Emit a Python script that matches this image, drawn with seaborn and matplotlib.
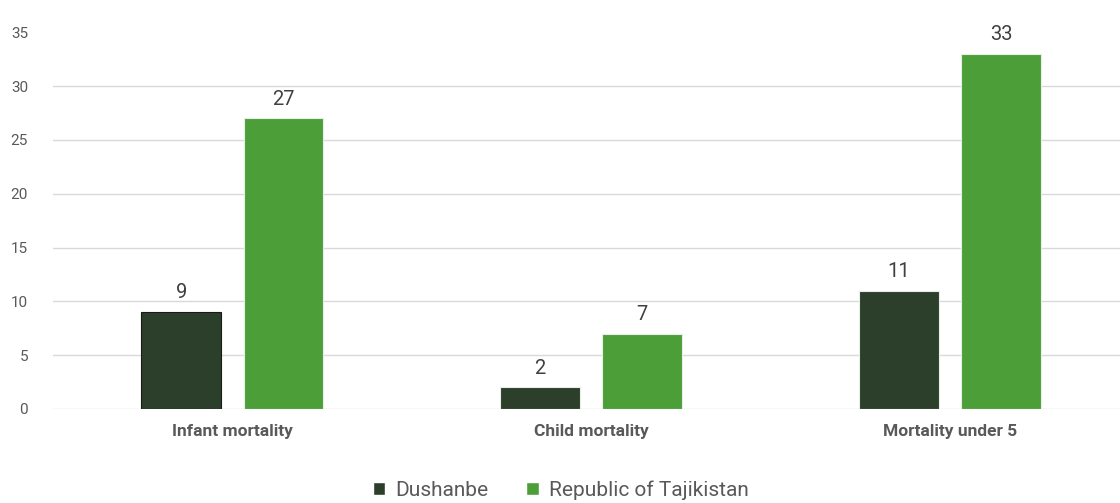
import matplotlib
matplotlib.use("Agg")
import matplotlib.pyplot as plt
import seaborn as sns
import pandas as pd

categories = ["Infant mortality", "Child mortality", "Mortality under 5"]
series = ["Dushanbe", "Republic of Tajikistan"]
dushanbe = [9, 2, 11]
tajikistan = [27, 7, 33]
yticks = [0, 5, 10, 15, 20, 25, 30, 35]

colors = {"Dushanbe": "#2c3f2a", "Republic of Tajikistan": "#4c9f38"}

df = pd.DataFrame({
    "category": categories * 2,
    "region": [series[0]] * 3 + [series[1]] * 3,
    "value": dushanbe + tajikistan,
})

sns.set_theme(style="white")
plt.rcParams["font.family"] = ["Roboto", "DejaVu Sans"]

fig = plt.figure(figsize=(11.2, 5.03), dpi=100)
ax = fig.add_axes([0.0473, 0.187, 0.9527, 0.813])

sns.barplot(data=df, x="category", y="value", hue="region", order=categories,
            hue_order=series, palette=colors, width=0.57, gap=0.22,
            saturation=1, ax=ax, legend=True)

# thin outline on the first dark bar, pale hairline elsewhere
for i, p in enumerate(ax.patches[:6]):
    p.set_edgecolor("#1a1a1a" if i == 0 else "#e8efe6")
    p.set_linewidth(0.8)

for cont in ax.containers:
    ax.bar_label(cont, labels=[f"{v:g}" for v in cont.datavalues],
                 padding=7, fontsize=14.5, color="#404040")

ax.set_xlim(-0.5, 2.474)
ax.set_ylim(0, 38)
ax.set_yticks(yticks)
ax.set_yticklabels([str(t) for t in yticks], fontsize=11, color="#595959")
ax.tick_params(axis="y", length=0, pad=18)
ax.tick_params(axis="x", length=0, pad=11)
for lbl in ax.get_xticklabels():
    lbl.set_fontweight("bold")
    lbl.set_fontsize(12.5)
    lbl.set_color("#595959")
ax.set_xlabel("")
ax.set_ylabel("")

for t in yticks[:-1]:
    ax.axhline(t, color="#d9d9d9", linewidth=1, zorder=0)
for s in ax.spines.values():
    s.set_visible(False)

handles, labels = ax.get_legend_handles_labels()
ax.legend(handles, labels, loc="upper center", bbox_to_anchor=(0.476, -0.128),
          ncol=2, frameon=False, fontsize=15, handlelength=0.6,
          handleheight=0.6, columnspacing=1.8, handletextpad=0.5,
          labelcolor="#595959")

fig.savefig("out.png", dpi=100)
